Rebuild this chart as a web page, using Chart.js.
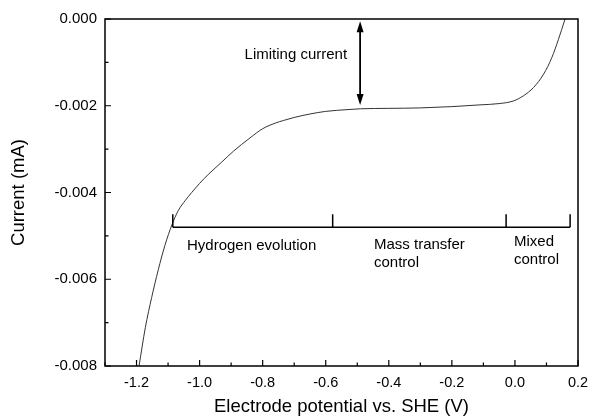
<!DOCTYPE html>
<html>
<head>
<meta charset="utf-8">
<script src="https://cdn.jsdelivr.net/npm/chart.js@4"></script>
<style>
html,body{margin:0;padding:0;background:#fff;}
#wrap{width:589px;height:418px;position:relative;}
</style>
</head>
<body>
<div id="wrap"><canvas id="c" width="589" height="418"></canvas></div>
<script>
// ---- data ----
const potential = [-1.192,-1.172,-1.152,-1.131,-1.110,-1.088,-1.068,-1.045,-1.025,-1.000,-0.972,-0.930,-0.893,-0.840,-0.800,-0.760,-0.734,-0.700,-0.650,-0.600,-0.533,-0.490,-0.400,-0.300,-0.269,-0.200,-0.111,-0.050,-0.005,0.027,0.059,0.091,0.117,0.138,0.159];
const current = [-0.0080,-0.00711,-0.00642,-0.00578,-0.00522,-0.00475,-0.00442,-0.00418,-0.00400,-0.00379,-0.00358,-0.00330,-0.00305,-0.00274,-0.00253,-0.00240,-0.00234,-0.00227,-0.00219,-0.00213,-0.00209,-0.00207,-0.00206,-0.00205,-0.00204,-0.00202,-0.00198,-0.00195,-0.00189,-0.00177,-0.00158,-0.00127,-0.00089,-0.00047,0.0];
const xTickValues = [-1.2,-1.0,-0.8,-0.6,-0.4,-0.2,0.0,0.2];
const xMinorValues = [-1.3,-1.1,-0.9,-0.7,-0.5,-0.3,-0.1,0.1];
const yMinorValues = [-0.007,-0.005,-0.003,-0.001];
const regionBounds = [-1.085,-0.578,-0.028,0.175];
const bracketLevel = -0.0048;
const bracketTickTop = -0.0045;
const regionLabels = [["Hydrogen evolution"],["Mass transfer","control"],["Mixed","control"]];
const regionLabelX = [-1.04,-0.447,-0.003];
const regionLabelDy = [19,18,15];
const arrowX = -0.491;
const arrowTop = -0.00005;
const arrowBottom = -0.00198;
const arrowLabel = "Limiting current";

const FONT = "'Liberation Sans', Arial, sans-serif";

const overlay = {
  id:'overlay',
  afterDraw(chart){
    const ctx = chart.ctx, xs = chart.scales.x, ys = chart.scales.y, a = chart.chartArea;
    ctx.save();
    // frame
    ctx.strokeStyle='#000'; ctx.lineWidth=1.5;
    ctx.strokeRect(a.left, a.top, a.right-a.left, a.bottom-a.top);
    // ticks inward
    ctx.lineWidth=1.2;
    ctx.beginPath();
    xTickValues.forEach(v=>{const p=xs.getPixelForValue(v); ctx.moveTo(p,a.bottom); ctx.lineTo(p,a.bottom-6);});
    xMinorValues.forEach(v=>{const p=xs.getPixelForValue(v); ctx.moveTo(p,a.bottom); ctx.lineTo(p,a.bottom-3.5);});
    ys.ticks.forEach(t=>{const p=ys.getPixelForValue(t.value); ctx.moveTo(a.left,p); ctx.lineTo(a.left+6,p);});
    yMinorValues.forEach(v=>{const p=ys.getPixelForValue(v); ctx.moveTo(a.left,p); ctx.lineTo(a.left+3.5,p);});
    ctx.stroke();
    // bracket
    ctx.lineWidth=1.5;
    ctx.beginPath();
    const by = ys.getPixelForValue(bracketLevel), bt = ys.getPixelForValue(bracketTickTop);
    ctx.moveTo(xs.getPixelForValue(regionBounds[0]), by);
    ctx.lineTo(xs.getPixelForValue(regionBounds[regionBounds.length-1]), by);
    regionBounds.forEach(v=>{const p=xs.getPixelForValue(v); ctx.moveTo(p,by); ctx.lineTo(p,bt);});
    ctx.stroke();
    // region labels
    ctx.fillStyle='#000'; ctx.font='15px '+FONT; ctx.textBaseline='middle'; ctx.textAlign='left';
    regionLabels.forEach((lines,i)=>{
      const px = xs.getPixelForValue(regionLabelX[i]);
      lines.forEach((s,j)=>{ ctx.fillText(s, px, by+regionLabelDy[i]+j*18); });
    });
    // arrow
    const ax = xs.getPixelForValue(arrowX), t = ys.getPixelForValue(arrowTop), b = ys.getPixelForValue(arrowBottom);
    ctx.lineWidth=1.8;
    ctx.beginPath(); ctx.moveTo(ax,t+8); ctx.lineTo(ax,b-8); ctx.stroke();
    ctx.beginPath(); ctx.moveTo(ax,t); ctx.lineTo(ax-3.5,t+11); ctx.lineTo(ax+3.5,t+11); ctx.closePath(); ctx.fill();
    ctx.beginPath(); ctx.moveTo(ax,b); ctx.lineTo(ax-3.5,b-11); ctx.lineTo(ax+3.5,b-11); ctx.closePath(); ctx.fill();
    ctx.textAlign='right';
    ctx.fillText(arrowLabel, ax-13, ys.getPixelForValue(-0.00082));
    ctx.restore();
  }
};

new Chart(document.getElementById('c'), {
  type:'scatter',
  data:{datasets:[{
    data: potential.map((v,i)=>({x:v,y:current[i]})),
    showLine:true, borderColor:'#333', borderWidth:1, pointRadius:0, cubicInterpolationMode:'monotone', fill:false
  }]},
  options:{
    responsive:false, animation:false, devicePixelRatio:1,
    layout:{padding:{left:0,right:0,top:19,bottom:0}},
    plugins:{legend:{display:false}, tooltip:{enabled:false}},
    scales:{
      x:{type:'linear', min:-1.3, max:0.2,
        afterBuildTicks(s){ s.ticks = xTickValues.map(v=>({value:v})); },
        afterFit(s){ s.height = 52; s.paddingRight = 11; s.paddingLeft = 0; },
        grid:{display:false, drawTicks:false}, border:{display:false},
        ticks:{color:'#000', font:{family:FONT,size:14.5}, padding:8, maxRotation:0, callback:v=>Number(v).toFixed(1)},
        title:{display:true, text:'Electrode potential vs. SHE (V)', color:'#000', font:{family:FONT,size:18.5}, padding:{top:3,bottom:0}}
      },
      y:{type:'linear', min:-0.008, max:0,
        ticks:{stepSize:0.002, color:'#000', font:{family:FONT,size:15}, padding:8, callback:v=>Number(v).toFixed(3)},
        afterFit(s){ s.width = 105; },
        grid:{display:false, drawTicks:false}, border:{display:false},
        title:{display:true, text:'Current (mA)', color:'#000', font:{family:FONT,size:18.5}, padding:{top:8,bottom:4}}
      }
    }
  },
  plugins:[overlay]
});
</script>
</body>
</html>
